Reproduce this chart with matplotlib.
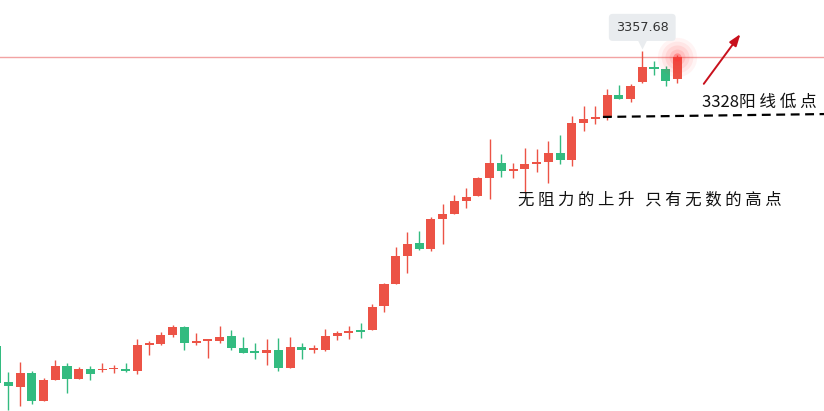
import numpy as np
import matplotlib
matplotlib.use("Agg")
import matplotlib.pyplot as plt
from matplotlib.transforms import offset_copy

plt.rcParams['font.family'] = ['Noto Sans CJK SC', 'DejaVu Sans']

# daily candles (index -1 is the half-hidden one at the left edge)
opens = [3224.93, 3208.73, 3206.48, 3212.78, 3200.18, 3209.63, 3215.93, 3210.08, 3214.58, 3213.91,
         3214.36, 3214.72, 3213.68, 3225.52, 3225.97, 3230.02, 3233.48, 3226.42, 3227.32, 3227.32,
         3229.43, 3224.03, 3222.23, 3221.92, 3223.13, 3215.17, 3224.48, 3223.28, 3223.13, 3229.57,
         3230.92, 3231.82, 3232.27, 3243.07, 3252.97, 3265.57, 3271.28, 3268.72, 3282.22, 3284.47,
         3290.32, 3292.57, 3300.67, 3307.28, 3303.82, 3304.58, 3306.97, 3307.87, 3311.78, 3308.77,
         3325.42, 3327.22, 3328.12, 3337.88, 3336.22, 3343.73, 3350.48, 3349.58, 3345.22]
highs = [3226.28, 3213.23, 3217.73, 3213.68, 3210.53, 3218.63, 3217.28, 3215.48, 3215.93, 3217.28,
         3216.38, 3217.42, 3228.08, 3227.18, 3231.23, 3234.38, 3233.93, 3230.78, 3228.08, 3233.93,
         3232.13, 3228.98, 3226.28, 3228.08, 3228.53, 3228.98, 3226.28, 3225.38, 3232.58, 3231.68,
         3233.93, 3235.28, 3243.83, 3253.28, 3269.48, 3276.23, 3276.68, 3282.98, 3288.83, 3292.88,
         3296.03, 3300.98, 3318.08, 3311.33, 3307.28, 3314.03, 3313.58, 3317.18, 3319.88, 3328.43,
         3332.93, 3333.07, 3340.58, 3342.38, 3342.83, 3357.68, 3353.18, 3350.93, 3355.88]
lows = [3206.93, 3196.13, 3197.93, 3198.83, 3200.18, 3209.63, 3203.78, 3210.08, 3209.63, 3213.23,
        3212.78, 3213.37, 3212.33, 3221.02, 3225.52, 3229.12, 3223.28, 3225.52, 3219.67, 3226.42,
        3223.28, 3221.92, 3219.22, 3216.52, 3213.82, 3215.17, 3219.22, 3221.92, 3222.82, 3227.77,
        3228.22, 3228.67, 3231.91, 3240.37, 3252.97, 3257.92, 3268.27, 3267.82, 3270.97, 3284.47,
        3287.03, 3292.57, 3291.08, 3301.12, 3300.67, 3293.78, 3303.37, 3298.06, 3306.97, 3306.07,
        3321.82, 3324.97, 3326.77, 3336.22, 3334.87, 3343.28, 3347.02, 3341.93, 3343.42]
closes = [3208.28, 3206.93, 3212.78, 3200.18, 3209.63, 3215.93, 3210.08, 3214.58, 3212.33, 3214.36,
          3214.81, 3213.82, 3225.38, 3225.83, 3229.88, 3233.48, 3226.42, 3226.87, 3227.77, 3228.98,
          3224.17, 3221.92, 3221.92, 3223.13, 3215.17, 3224.48, 3223.28, 3223.58, 3229.43, 3230.78,
          3231.37, 3231.37, 3242.48, 3252.83, 3265.43, 3270.83, 3268.72, 3282.08, 3284.33, 3290.18,
          3291.98, 3300.53, 3307.28, 3303.82, 3304.58, 3306.83, 3307.42, 3311.78, 3308.77, 3325.28,
          3327.08, 3327.66, 3337.88, 3336.22, 3341.93, 3350.48, 3349.72, 3344.32, 3354.85]

support_level = 3328          # 3328 阳线低点
support_bar = 52              # the red candle that set it
peak_label = "3357.68"
note_support = "3328阳 线 低 点"
note_trend = "无 阻 力 的 上 升   只 有 无 数 的 高 点"

up_color = '#ec5346'
down_color = '#33bb80'

o = np.array(opens)
h = np.array(highs)
l = np.array(lows)
c = np.array(closes)
x = np.arange(len(o)) - 1

fig = plt.figure(figsize=(8.24, 4.11), dpi=100)
ax = fig.add_axes([0, 0, 1, 1])
ax.set_xlim(-0.707, 69.48)
ax.set_ylim(3195.68, 3380.63)
ax.axis('off')

colors = np.where(c >= o, up_color, down_color)
body_low = np.minimum(o, c)
body_h = np.maximum(np.abs(c - o), 0.8)
ax.vlines(x, l, h, colors=colors, lw=1.0, zorder=2)
ax.bar(x, body_h, bottom=body_low, width=0.77, color=colors, zorder=3)

# last price line
ax.axhline(c[-1], color='#f2a3a3', lw=1.0, zorder=1)

# glow on the latest candle
for s, a in [(800, 0.05), (520, 0.07), (300, 0.09), (130, 0.12), (35, 0.35)]:
    ax.scatter(x[-1], c[-1], s=s, color='#ff3030', alpha=a, lw=0, zorder=4)

# tooltip over the high
i_peak = int(np.argmax(h))
ax.annotate(peak_label, (x[i_peak], h[i_peak]), xytext=(0, 17), textcoords='offset points',
            ha='center', va='center', fontsize=9.2, color='#333333', family='DejaVu Sans',
            bbox=dict(boxstyle='round,pad=0.55,rounding_size=0.3', fc='#e9ecef', ec='none'), zorder=5)
tri = offset_copy(ax.transData, fig=fig, x=0, y=5.5, units='points')
ax.plot(x[i_peak], h[i_peak], marker='v', ms=9, color='#e9ecef', mec='none', transform=tri, zorder=5)

# support dashed line
ax.plot([x[support_bar] - 0.35, 69.48], [support_level, support_level + 1.3],
        ls=(0, (4, 2.5)), color='black', lw=1.6, zorder=5)

# red arrow
ax.annotate('', xy=(62.5, 3366.3), xytext=(59.1, 3341.9),
            arrowprops=dict(arrowstyle='-|>,head_length=0.7,head_width=0.25', color='#c8101c', lw=1.4))

ax.text(59.1, 3334.7, note_support, fontsize=12, color='#111111', ha='left', va='center')
ax.text(43.4, 3290.6, note_trend, fontsize=11.8, color='#111111', ha='left', va='center')

fig.savefig('out.png', dpi=100)
